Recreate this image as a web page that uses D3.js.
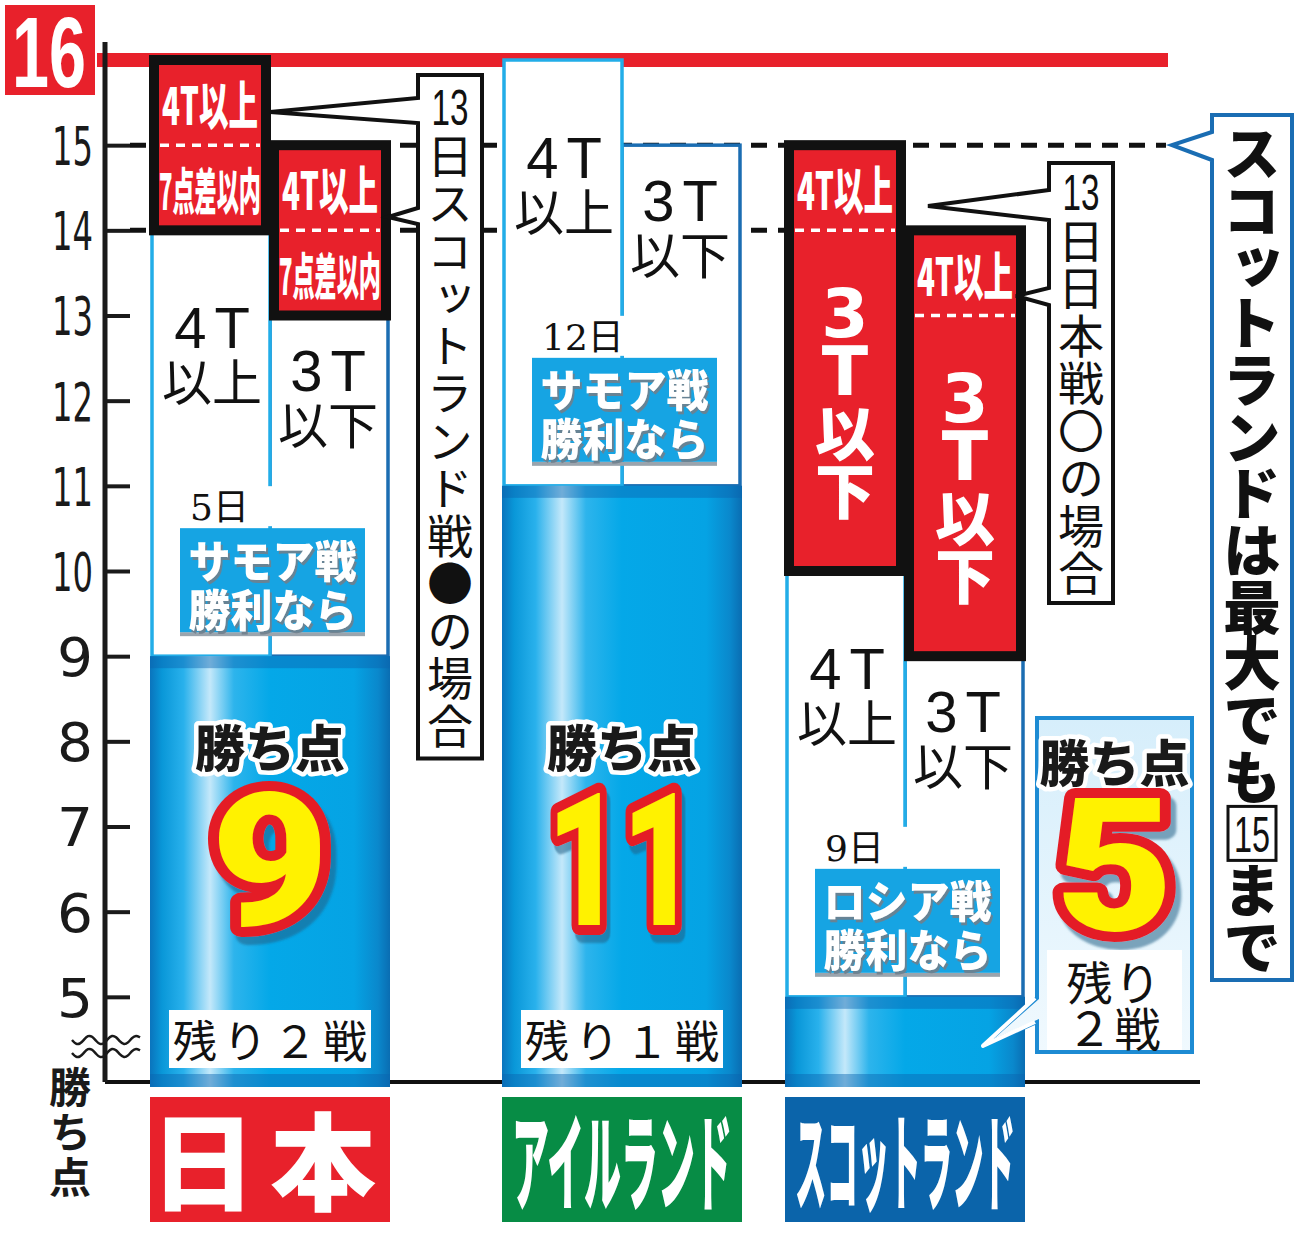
<!DOCTYPE html>
<html>
<head>
<meta charset="utf-8">
<script src="https://cdn.jsdelivr.net/npm/d3@7"></script>
<style>
  body { margin: 0; background: #fff; }
</style>
</head>
<body>
<script>
// ---- data ----
const teams = ["日本", "アイルランド", "スコットランド"];
const teamColors = ["#e8212b", "#078c45", "#0b64aa"];
const points = [9, 11, 5];
const remaining = ["残り２戦", "残り１戦", "残り２戦"];
const nextDay = ["5日", "12日", "9日"];
const nextMatch = ["サモア戦", "サモア戦", "ロシア戦"];
const win4T = [14, 16, 10];   // next win with 4 tries or more
const win3T = [13, 15, 9];    // next win with 3 tries or fewer

// 13日 Japan v Scotland blocks
const blockTeam = [0, 0, 2, 2];
const blockCol = [0, 1, 0, 1];
const blockLow = [14, 13, 10, 9];
const blockSplit = [15, 14, 14, 13];
const blockHigh = [16, 15, 15, 14];
const blockTop = ["4T以上", "4T以上", "4T以上", "4T以上"];
const blockBottom = ["7点差以内", "7点差以内", "3T以下", "3T以下"];

const yTicks = [5, 6, 7, 8, 9, 10, 11, 12, 13, 14, 15];
const maxPoints = 16;
const dashedLevels = [15, 14];

const note1 = ["13", "日スコットランド戦●の場合"];
const note2 = ["13", "日日本戦〇の場合"];
const note3 = ["スコットランドは最大でも", "15", "まで"];

// ---- setup ----
const JP = "'Noto Sans CJK JP', 'Noto Sans', sans-serif";
const LAT = "'Liberation Sans', Arial, sans-serif";
const NUM = "Roboto, 'DejaVu Sans', sans-serif";

const svg = d3.select("body").append("svg")
  .attr("width", 1300).attr("height", 1237)
  .style("display", "block");

const y = d3.scaleLinear().domain([4, 16]).range([1082, 60]);
const x = d3.scaleOrdinal().domain(teams).range([150, 502, 785]);
const barW = 240, colW = barW / 2;
const axisX = 105;

// squeeze a text horizontally to a given width around (cx, cy)
function squeeze(t, cx, cy, width) {
  t.attr("x", 0).attr("y", 0);
  const w = t.node().getComputedTextLength() || width;
  t.attr("transform", `translate(${cx},${cy}) scale(${width / w},1)`);
  return t;
}

const defs = svg.append("defs");
const barGrad = defs.append("linearGradient").attr("id", "barGrad")
  .attr("x1", 0).attr("x2", 1).attr("y1", 0).attr("y2", 0);
[[0, "#0a74bd"], [0.05, "#0997d8"], [0.14, "#29b1ec"], [0.25, "#c4e8fa"],
 [0.35, "#2db4ec"], [0.5, "#04a8e8"], [0.85, "#05a3e4"], [0.95, "#0a88cc"], [1, "#0a6db2"]]
  .forEach(s => barGrad.append("stop").attr("offset", s[0]).attr("stop-color", s[1]));
const boxGrad = defs.append("linearGradient").attr("id", "boxGrad")
  .attr("x1", 0).attr("x2", 0).attr("y1", 0).attr("y2", 1);
boxGrad.append("stop").attr("offset", 0).attr("stop-color", "#d6eefb");
boxGrad.append("stop").attr("offset", 1).attr("stop-color", "#f0f9fe");

// drop shadows
defs.append("filter").attr("id", "labelShadow").attr("x", "-10%").attr("y", "-20%").attr("width", "130%").attr("height", "150%")
  .append("feDropShadow").attr("dx", 2).attr("dy", 3).attr("stdDeviation", 0)
  .attr("flood-color", "#6f7f8c").attr("flood-opacity", 0.9);
defs.append("filter").attr("id", "numShadow").attr("x", "-20%").attr("y", "-20%").attr("width", "150%").attr("height", "150%")
  .append("feDropShadow").attr("dx", 5).attr("dy", 8).attr("stdDeviation", 1)
  .attr("flood-color", "#1f5f86").attr("flood-opacity", 0.55);

// dashed reference lines (behind)
svg.selectAll(".dash").data(dashedLevels).enter().append("line")
  .attr("x1", axisX + 25)
  .attr("x2", d => d === 15 ? 1166 : x(teams[2]) + colW)
  .attr("y1", d => y(d)).attr("y2", d => y(d))
  .attr("stroke", "#111").attr("stroke-width", 5).attr("stroke-dasharray", "16 11");

// max line at 16
svg.append("line").attr("x1", axisX - 8).attr("x2", 1168)
  .attr("y1", y(maxPoints)).attr("y2", y(maxPoints))
  .attr("stroke", "#e8212b").attr("stroke-width", 14);

// baseline
svg.append("line").attr("x1", axisX).attr("x2", 1200)
  .attr("y1", y(4)).attr("y2", y(4)).attr("stroke", "#111").attr("stroke-width", 4);

// scenario columns
teams.forEach((t, i) => {
  const x0 = x(t);
  svg.append("rect").attr("x", x0 + colW).attr("y", y(win3T[i]))
    .attr("width", colW - 2).attr("height", y(points[i]) - y(win3T[i]))
    .attr("fill", "#fff").attr("stroke", "#1b6db2").attr("stroke-width", 3.5);
  svg.append("rect").attr("x", x0 + 2).attr("y", y(win4T[i]))
    .attr("width", colW - 2).attr("height", y(points[i]) - y(win4T[i]))
    .attr("fill", "#fff").attr("stroke", "#22ade8").attr("stroke-width", 3.5);
});

// current-point bars
teams.forEach((t, i) => {
  const x0 = x(t), top = y(points[i]), bot = y(4) + 5;
  svg.append("rect").attr("x", x0).attr("y", top).attr("width", barW).attr("height", bot - top)
    .attr("fill", "url(#barGrad)");
  svg.append("rect").attr("x", x0).attr("y", top).attr("width", barW).attr("height", 12)
    .attr("fill", "#0a64b0").attr("opacity", 0.45);
  svg.append("rect").attr("x", x0).attr("y", bot - 13).attr("width", barW).attr("height", 13)
    .attr("fill", "#0a64b0").attr("opacity", 0.45);
});

// red blocks (13日 match)
blockTeam.forEach((ti, k) => {
  const bx = x(teams[ti]) + blockCol[k] * colW;
  const g = svg.append("g");
  g.append("rect").attr("x", bx + 4).attr("y", y(blockHigh[k]))
    .attr("width", colW - 8).attr("height", y(blockLow[k]) - y(blockHigh[k]))
    .attr("fill", "#e8212b").attr("stroke", "#111").attr("stroke-width", 10);
  g.append("line").attr("x1", bx + 10).attr("x2", bx + colW - 10)
    .attr("y1", y(blockSplit[k])).attr("y2", y(blockSplit[k]))
    .attr("stroke", "#fff").attr("stroke-width", 3.5).attr("stroke-dasharray", "9 7");
  const cx = bx + colW / 2;
  squeeze(g.append("text")
    .attr("text-anchor", "middle").attr("dominant-baseline", "central")
    .attr("font-family", JP).attr("font-weight", 900).attr("font-size", 52)
    .attr("fill", "#fff").text(blockTop[k]), cx, (y(blockHigh[k]) + y(blockSplit[k])) / 2, 96);
  const lowMid = (y(blockSplit[k]) + y(blockLow[k])) / 2;
  if (blockSplit[k] - blockLow[k] > 1) {
    // tall section: stacked text, 3 / T / 以 / 下
    const chars = ["3", "T", "以", "下"];
    chars.forEach((c, j) => {
      g.append("text").attr("x", cx).attr("y", lowMid + (j - 1.5) * 58)
        .attr("text-anchor", "middle").attr("dominant-baseline", "central")
        .attr("font-family", j < 2 ? "'DejaVu Sans', sans-serif" : JP)
        .attr("font-weight", 900).attr("font-size", j < 2 ? 68 : 60)
        .attr("fill", "#fff").text(c);
    });
  } else {
    squeeze(g.append("text")
      .attr("text-anchor", "middle").attr("dominant-baseline", "central")
      .attr("font-family", JP).attr("font-weight", 900).attr("font-size", 50)
      .attr("fill", "#fff").text(blockBottom[k]), cx, lowMid, 102);
  }
});

// 4T以上 / 3T以下 labels in white columns
teams.forEach((t, i) => {
  const x0 = x(t), top = y(win4T[i]);
  const lab = [[x0 + colW / 2 + 2, top + 97, "4T", "以上"], [x0 + colW + colW / 2 - 2, top + 140, "3T", "以下"]];
  lab.forEach(l => {
    svg.append("text").attr("x", l[0] + 4).attr("y", l[1])
      .attr("text-anchor", "middle").attr("dominant-baseline", "central")
      .attr("font-family", LAT).attr("font-size", 58).attr("letter-spacing", 8)
      .attr("fill", "#111").text(l[2]);
    svg.append("text").attr("x", l[0]).attr("y", l[1] + 52)
      .attr("text-anchor", "middle").attr("dominant-baseline", "central")
      .attr("font-family", JP).attr("font-size", 50)
      .attr("fill", "#111").text(l[3]);
  });
});

// next match labels
teams.forEach((t, i) => {
  const x0 = x(t);
  const bBot = y(points[i]) - 24, bTop = bBot - 104, bx = x0 + 30, bw = 185;
  svg.append("rect").attr("x", bx - 2).attr("y", bTop - 42).attr("width", 100).attr("height", 40).attr("fill", "#fff");
  svg.append("text").attr("x", bx + 10).attr("y", bTop - 8)
    .attr("font-family", "'DejaVu Serif', 'Noto Sans CJK JP', serif").attr("font-size", 36)
    .attr("fill", "#111").text(nextDay[i]);
  svg.append("rect").attr("x", bx).attr("y", bBot).attr("width", bw).attr("height", 4).attr("fill", "#9aa4ad");
  svg.append("rect").attr("x", bx).attr("y", bTop).attr("width", bw).attr("height", bBot - bTop).attr("fill", "#16a4e3");
  [[nextMatch[i], 30], ["勝利なら", 79]].forEach(r => {
    squeeze(svg.append("text")
      .attr("text-anchor", "middle").attr("dominant-baseline", "central")
      .attr("font-family", JP).attr("font-weight", 900).attr("font-size", 44)
      .attr("filter", "url(#labelShadow)")
      .attr("fill", "#fff").text(r[0]), bx + bw / 2, bTop + r[1], 168);
  });
});

// helpers
function haloText(g, txt, cx, cy, size) {
  g.append("text").attr("x", cx).attr("y", cy)
    .attr("text-anchor", "middle").attr("dominant-baseline", "central")
    .attr("font-family", JP).attr("font-weight", 900).attr("font-size", size)
    .attr("fill", "#1a1a1a").attr("stroke", "#fff").attr("stroke-width", 9)
    .attr("stroke-linejoin", "round").attr("paint-order", "stroke").text(txt);
}
function bigNum(g, txt, cx, base, size) {
  const t = g.append("text")
    .attr("text-anchor", "middle").attr("font-family", NUM).attr("font-weight", 900)
    .attr("font-size", size)
    .attr("fill", "#fff200").attr("stroke", "#e41e26").attr("stroke-width", 20)
    .attr("stroke-linejoin", "round").attr("paint-order", "stroke")
    .attr("filter", "url(#numShadow)").text(txt);
  squeeze(t, cx, base, txt.length > 1 ? 150 : 118);
}

// bar contents, category labels
teams.forEach((t, i) => {
  const x0 = x(t), cx = x0 + barW / 2;
  const g = svg.append("g");
  if (y(4) - y(points[i]) > 300) {
    haloText(g, "勝ち点", cx, 745, 50);
    bigNum(g, String(points[i]), cx, 925, 185);
    g.append("rect").attr("x", x0 + 19).attr("y", y(4) - 72).attr("width", 202).attr("height", 58).attr("fill", "#fff");
    g.append("text").attr("x", cx + 3).attr("y", y(4) - 43)
      .attr("text-anchor", "middle").attr("dominant-baseline", "central")
      .attr("font-family", JP).attr("font-size", 44).attr("letter-spacing", 6)
      .attr("fill", "#111").text(remaining[i]);
  } else {
    // short bar: callout box to the right
    const L = x0 + barW + 12, R = L + 155, T = 718, B = y(4) - 30;
    const tip = [x0 + barW - 42, y(points[i]) + 49];
    g.append("path")
      .attr("d", `M${L},${T}H${R}V${B}H${L}V${B - 30}L${tip[0]},${tip[1]}L${L},${B - 54}Z`)
      .attr("fill", "url(#boxGrad)").attr("stroke", "#1d8bd3").attr("stroke-width", 4);
    g.append("polyline").attr("points", `${L - 2},${B - 30} ${tip[0]},${tip[1]} ${L - 2},${B - 54}`)
      .attr("fill", "none").attr("stroke", "#fff").attr("stroke-width", 4).attr("stroke-linejoin", "round");
    const mx = (L + R) / 2;
    haloText(g, "勝ち点", mx, 760, 50);
    bigNum(g, String(points[i]), mx, 930, 185);
    g.append("rect").attr("x", L + 10).attr("y", 950).attr("width", R - L - 20).attr("height", B - 952).attr("fill", "#fff");
    const parts = [remaining[i].slice(0, 2), remaining[i].slice(2)];
    parts.forEach((p, j) => {
      g.append("text").attr("x", mx).attr("y", 980 + j * 46)
        .attr("text-anchor", "middle").attr("dominant-baseline", "central")
        .attr("font-family", JP).attr("font-size", 46).attr("letter-spacing", 2)
        .attr("fill", "#111").text(p);
    });
  }
  svg.append("rect").attr("x", x0).attr("y", y(4) + 15).attr("width", barW).attr("height", 125)
    .attr("fill", teamColors[i]);
  const lbl = svg.append("text")
    .attr("text-anchor", "middle").attr("dominant-baseline", "central")
    .attr("font-family", JP).attr("font-weight", 900).attr("font-size", 106)
    .attr("fill", "#fff").text(t);
  if (t.length > 2) {
    squeeze(lbl, cx, y(4) + 74, 220);
  } else {
    lbl.attr("x", cx).attr("y", y(4) + 74).attr("letter-spacing", 14);
  }
});

// y axis
const axis = d3.axisLeft(y).tickValues(yTicks).tickSize(-25).tickPadding(12).tickFormat(d3.format("d"));
const ag = svg.append("g").attr("transform", `translate(${axisX},0)`).call(axis);
ag.select(".domain").remove();
ag.selectAll(".tick line").attr("stroke", "#1a1a1a").attr("stroke-width", 4);
ag.selectAll(".tick text")
  .attr("font-family", "'DejaVu Sans', sans-serif").attr("font-size", 54).attr("fill", "#1a1a1a")
  .attr("dy", "0.36em")
  .each(function (d) {
    const t = d3.select(this);
    const w = this.getComputedTextLength() || 1;
    t.attr("x", 0).attr("transform", `translate(-12,0) scale(${(d < 10 ? 36 : 41) / w},1)`);
  });
svg.append("line").attr("x1", axisX).attr("x2", axisX)
  .attr("y1", y(maxPoints) - 18).attr("y2", y(4)).attr("stroke", "#1a1a1a").attr("stroke-width", 5);

// 16 label
svg.append("rect").attr("x", 5).attr("y", 5).attr("width", 90).attr("height", 90).attr("fill", "#e8212b");
squeeze(svg.append("text")
  .attr("text-anchor", "middle").attr("dominant-baseline", "central")
  .attr("font-family", LAT).attr("font-weight", 700).attr("font-size", 100)
  .attr("fill", "#fff").text(String(maxPoints)), 49, 52, 74);

// axis break waves
const wave = d3.line().curve(d3.curveBasis);
[1040, 1053].forEach(wy => {
  const pts = d3.range(0, 71, 4).map(dx => [72 + dx, wy + 5 * Math.sin(dx / 70 * Math.PI * 6)]);
  svg.append("path").attr("d", wave(pts)).attr("fill", "none").attr("stroke", "#1a1a1a").attr("stroke-width", 2.5);
});
svg.append("text").attr("x", 70).attr("y", 1066)
  .style("writing-mode", "vertical-rl")
  .attr("font-family", JP).attr("font-weight", 700).attr("font-size", 42)
  .attr("letter-spacing", 3).attr("fill", "#1a1a1a").text("勝ち点");

// vertical text helpers
function vLine(g, str, cx, firstCenter, pitch, size, weight) {
  g.append("text").attr("x", cx).attr("y", firstCenter - size / 2)
    .style("writing-mode", "vertical-rl")
    .attr("font-family", JP).attr("font-weight", weight).attr("font-size", size)
    .attr("letter-spacing", pitch - size).attr("fill", "#111").text(str);
}
function upright(g, str, cx, cy, size, width) {
  squeeze(g.append("text")
    .attr("text-anchor", "middle").attr("dominant-baseline", "central")
    .attr("font-family", LAT).attr("font-size", size)
    .attr("fill", "#111").text(str), cx, cy, width);
}

// note: Japan v Scotland lost
{
  const L = x(teams[0]) + barW + 28, R = L + 64, T = 75, pitch = 47.5;
  const B = T + 66 + note1[1].length * pitch;
  const g = svg.append("g");
  g.append("path")
    .attr("d", `M${L},${T}H${R}V${B}H${L}V224L${x(teams[0]) + barW - 2},217L${L},208V123L${x(teams[0]) + colW},112L${L},98Z`)
    .attr("fill", "#fff").attr("stroke", "#111").attr("stroke-width", 4);
  upright(g, note1[0], (L + R) / 2, T + 33, 50, 37);
  vLine(g, note1[1], (L + R) / 2, T + 33 + pitch, pitch, 46, 400);
}
// note: Japan v Scotland won
{
  const x0 = x(teams[2]);
  const L = x0 + barW + 24, R = L + 64, T = 163, pitch = 47.5;
  const B = T + 60 + note2[1].length * pitch;
  const g = svg.append("g");
  g.append("path")
    .attr("d", `M${L},${T}H${R}V${B}H${L}V305L${x0 + barW - 9},296L${L},288V220L${x0 + colW + 23},206L${L},190Z`)
    .attr("fill", "#fff").attr("stroke", "#111").attr("stroke-width", 4);
  upright(g, note2[0], (L + R) / 2, T + 30, 50, 37);
  vLine(g, note2[1], (L + R) / 2, T + 30 + pitch, pitch, 46, 400);
}
// right panel
{
  const L = 1212, R = 1292, T = 115, B = 980, pitch = 56.7, cx = (L + R) / 2, c0 = 153;
  const g = svg.append("g");
  g.append("path")
    .attr("d", `M${L},${T}H${R}V${B}H${L}V160L1172,${y(15)}L${L},132Z`)
    .attr("fill", "#fff").attr("stroke", "#1a6db3").attr("stroke-width", 4);
  vLine(g, note3[0], cx, c0, pitch, 58, 900);
  const cBox = c0 + note3[0].length * pitch;
  g.append("rect").attr("x", cx - 24).attr("y", cBox - 27).attr("width", 48).attr("height", 54)
    .attr("fill", "#fff").attr("stroke", "#111").attr("stroke-width", 3);
  upright(g, note3[1], cx, cBox + 1, 50, 36);
  vLine(g, note3[2], cx, cBox + pitch, pitch, 58, 900);
}
</script>
</body>
</html>
